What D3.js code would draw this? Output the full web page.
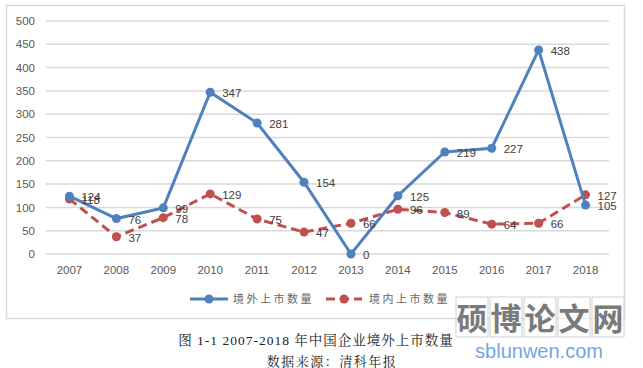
<!DOCTYPE html>
<html>
  <head>
    <meta charset="utf-8">
    <script src="https://d3js.org/d3.v7.min.js"></script>
    <style>
      body { margin: 0; background: #fff; }
      svg text { font-family: "Liberation Sans", Arial, sans-serif; }
    </style>
  </head>
  <body>
    <div id="chart"></div>
    <script>
      // data
      const years = ["2007", "2008", "2009", "2010", "2011", "2012", "2013", "2014", "2015", "2016", "2017", "2018"];
      const overseas = [124, 76, 99, 347, 281, 154, 0, 125, 219, 227, 438, 105];
      const domestic = [118, 37, 78, 129, 75, 47, 66, 96, 89, 64, 66, 127];
      const yTicks = [0, 50, 100, 150, 200, 250, 300, 350, 400, 450, 500];
      const seriesNames = ["境外上市数量", "境内上市数量"];

      const W = 643, H = 368;
      const svg = d3.select("#chart").append("svg").attr("width", W).attr("height", H);

      // chart frame
      svg.append("rect")
        .attr("x", 6.5).attr("y", 5.5).attr("width", 618).attr("height", 313)
        .attr("fill", "#fff").attr("stroke", "#d9d9d9").attr("stroke-width", 1.5);

      const x = d3.scaleBand().domain(years).range([46, 609]);
      const y = d3.scaleLinear().domain([0, 500]).range([254, 21]);
      const cx = (d) => x(d) + x.bandwidth() / 2;

      // gridlines
      svg.append("g")
        .selectAll("line")
        .data(yTicks)
        .enter()
        .append("line")
        .attr("x1", 46).attr("x2", 609)
        .attr("y1", (d) => y(d)).attr("y2", (d) => y(d))
        .attr("stroke", "#d9d9d9").attr("stroke-width", 1.5);

      // y axis labels
      const yAxis = svg.append("g")
        .attr("transform", "translate(46,0)")
        .call(d3.axisLeft(y).tickValues(yTicks).tickSize(0).tickPadding(11));
      yAxis.select(".domain").remove();
      yAxis.selectAll("text").attr("fill", "#595959").style("font-size", "11.5px");

      // x axis labels
      const xAxis = svg.append("g")
        .attr("transform", "translate(0,254)")
        .call(d3.axisBottom(x).tickSize(0).tickPadding(12));
      xAxis.select(".domain").remove();
      xAxis.selectAll("text").attr("fill", "#595959").style("font-size", "11.5px");

      const series = [
        { name: seriesNames[0], values: overseas, color: "#4f81bd", dash: null },
        { name: seriesNames[1], values: domestic, color: "#c0504d", dash: "9,5" },
      ];

      const line = d3.line().x((d, i) => cx(years[i])).y((d) => y(d));

      // draw domestic first so overseas sits on top like the original
      series.slice().reverse().forEach((s) => {
        const g = svg.append("g");
        g.append("path")
          .datum(s.values)
          .attr("d", line)
          .attr("fill", "none")
          .attr("stroke", s.color)
          .attr("stroke-width", 3)
          .attr("stroke-dasharray", s.dash);
        g.selectAll("circle")
          .data(s.values)
          .enter()
          .append("circle")
          .attr("cx", (d, i) => cx(years[i]))
          .attr("cy", (d) => y(d))
          .attr("r", 4.5)
          .attr("fill", s.color);
      });

      // data labels (right of each point)
      series.forEach((s) => {
        svg.append("g")
          .selectAll("text")
          .data(s.values)
          .enter()
          .append("text")
          .attr("x", (d, i) => cx(years[i]) + 12)
          .attr("y", (d) => y(d) + 5)
          .attr("fill", "#404040")
          .style("font-size", "11.5px")
          .text((d) => d);
      });

      // legend
      const legend = svg.append("g").attr("transform", "translate(0,299)");
      const legendItems = [
        { x1: 190, x2: 228, tx: 233 },
        { x1: 326, x2: 362, tx: 369 },
      ];
      legendItems.forEach((l, i) => {
        const s = series[i];
        legend.append("line")
          .attr("x1", l.x1).attr("x2", l.x2).attr("y1", 0).attr("y2", 0)
          .attr("stroke", s.color).attr("stroke-width", 3)
          .attr("stroke-dasharray", i === 1 ? "9,5" : null);
        legend.append("circle")
          .attr("cx", (l.x1 + l.x2) / 2).attr("cy", 0).attr("r", 4.5).attr("fill", s.color);
        legend.append("text")
          .attr("x", l.tx).attr("y", 4)
          .attr("fill", "#666")
          .style("font-size", "11px")
          .style("letter-spacing", "2.5px")
          .style("font-family", "'Noto Sans CJK SC', sans-serif")
          .text(s.name);
      });

      // caption
      svg.append("text")
        .attr("x", 316).attr("y", 345)
        .attr("text-anchor", "middle")
        .attr("fill", "#222")
        .style("font-size", "13.5px")
        .style("letter-spacing", "1px")
        .style("font-family", "'Liberation Serif', 'Noto Serif CJK SC', serif")
        .text("图 1-1  2007-2018 年中国企业境外上市数量");
      svg.append("text")
        .attr("x", 332).attr("y", 366)
        .attr("text-anchor", "middle")
        .attr("fill", "#222")
        .style("font-size", "13px")
        .style("letter-spacing", "1.5px")
        .style("font-family", "'Liberation Serif', 'Noto Serif CJK SC', serif")
        .text("数据来源：清科年报");

      // watermark
      const wm = svg.append("g");
      const wmChars = ["硕", "博", "论", "文", "网"];
      wm.selectAll("rect")
        .data(wmChars)
        .enter()
        .append("rect")
        .attr("x", (d, i) => 456 + i * 34)
        .attr("y", 297)
        .attr("width", 32)
        .attr("height", 40)
        .attr("fill", "rgba(255,255,255,0.6)")
        .attr("stroke", "#cfcfcf")
        .attr("stroke-width", 1);
      wm.selectAll("text.wm")
        .data(wmChars)
        .enter()
        .append("text")
        .attr("class", "wm")
        .attr("x", (d, i) => 472 + i * 34)
        .attr("y", 330)
        .attr("text-anchor", "middle")
        .attr("fill", "#7a7a7a")
        .style("font-size", "31px")
        .style("font-weight", "bold")
        .style("font-family", "'Noto Sans CJK SC', sans-serif")
        .text((d) => d);
      wm.append("text")
        .attr("x", 539).attr("y", 358)
        .attr("text-anchor", "middle")
        .attr("fill", "#74a7e0")
        .style("font-size", "20px")
        .style("font-family", "'Liberation Sans', Arial, sans-serif")
        .text("sblunwen.com");
    </script>
  </body>
</html>
